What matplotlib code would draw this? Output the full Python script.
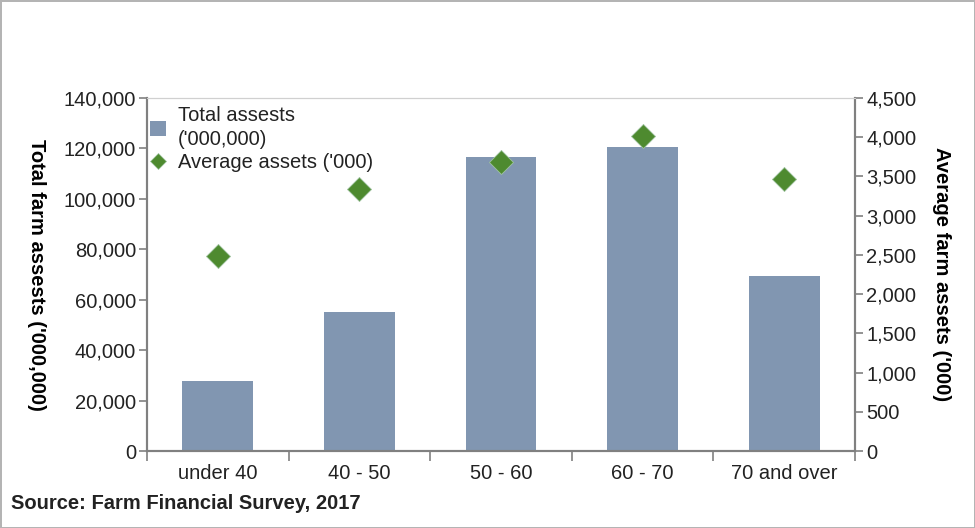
"""
Farm assets by age of farm holder: total assets bars + average assets diamonds.
"""

import matplotlib
matplotlib.use("Agg")
import matplotlib.pyplot as plt
from matplotlib.lines import Line2D
from matplotlib.patches import Patch
from matplotlib.ticker import FuncFormatter

plt.rcParams["font.family"] = ["Liberation Sans", "DejaVu Sans"]

# data
age_groups = ["under 40", "40 - 50", "50 - 60", "60 - 70", "70 and over"]
total_assets = [27700, 55100, 116700, 120600, 69400]   # '000,000
average_assets = [2490, 3340, 3680, 4010, 3470]        # '000

BAR_COLOR = "#8196b1"
DIAMOND_COLOR = "#4e8a2f"
AXIS_COLOR = "#808080"
FS = 14.5

fig = plt.figure(figsize=(9.75, 5.28), dpi=100,
                 edgecolor="#b4b4b4", linewidth=2)
ax = fig.add_axes([0.1508, 0.1458, 0.877 - 0.1508, 0.8144 - 0.1458])
ax2 = ax.twinx()

x = list(range(len(age_groups)))
ax.bar(x, total_assets, width=0.5, color=BAR_COLOR, zorder=2)
ax2.scatter(x, average_assets, marker="D", s=150, color=DIAMOND_COLOR,
            edgecolors="#9fc3a0", linewidths=0.6, zorder=3)

ax.set_xlim(-0.5, 4.5)
ax.set_ylim(0, 140000)
ax2.set_ylim(0, 4500)
ax.set_yticks(range(0, 140001, 20000))
ax2.set_yticks(range(0, 4501, 500))
fmt = FuncFormatter(lambda v, p: f"{int(v):,}")
ax.yaxis.set_major_formatter(fmt)
ax2.yaxis.set_major_formatter(fmt)

# category labels at centres, tick marks at boundaries
ax.set_xticks(x)
ax.set_xticklabels(age_groups, fontsize=FS, color="#222222")
ax.tick_params(axis="x", which="major", length=0, pad=9)
ax.set_xticks([i - 0.5 for i in range(len(age_groups) + 1)], minor=True)
ax.tick_params(axis="x", which="minor", length=7, color=AXIS_COLOR, width=1.2)

ax.tick_params(axis="y", length=6, color=AXIS_COLOR, width=1.2,
               labelsize=FS, labelcolor="#222222", pad=2)
ax2.tick_params(axis="y", length=6, color=AXIS_COLOR, width=1.2,
                labelsize=FS, labelcolor="#222222", pad=2)

for a in (ax, ax2):
    a.spines["left"].set_color(AXIS_COLOR)
    a.spines["right"].set_color(AXIS_COLOR)
    a.spines["bottom"].set_color(AXIS_COLOR)
    a.spines["top"].set_color("#d0d0d0")
    for s in ("left", "right", "bottom"):
        a.spines[s].set_linewidth(1.5)

ax.set_ylabel("Total farm assests ('000,000)", fontsize=FS, fontweight="bold",
              rotation=-90)
ax.yaxis.set_label_coords(-0.17, 0.5)
ax2.set_ylabel("Average farm assets ('000)", fontsize=FS, fontweight="bold",
               rotation=-90)
ax2.yaxis.set_label_coords(1.135, 0.5)

handles = [
    Patch(facecolor=BAR_COLOR, edgecolor="none"),
    Line2D([], [], marker="D", linestyle="none", markersize=8,
           color=DIAMOND_COLOR, markeredgecolor="#9fc3a0", markeredgewidth=0.5),
]
leg = ax.legend(handles, ["Total assests\n('000,000)", "Average assets ('000)"],
                loc="upper left", bbox_to_anchor=(-0.016, 1.017), frameon=False,
                fontsize=FS, handlelength=0.8, handleheight=0.8,
                handletextpad=0.6, labelspacing=0.2, borderaxespad=0.3)
for t in leg.get_texts():
    t.set_color("#222222")
    t.set_linespacing(1.35)
leg.set_zorder(5)

fig.text(0.011, 0.047, "Source: Farm Financial Survey, 2017", fontsize=FS,
         fontweight="bold", color="#222222", ha="left", va="center")

fig.savefig("out.png", dpi=100)
plt.close(fig)
